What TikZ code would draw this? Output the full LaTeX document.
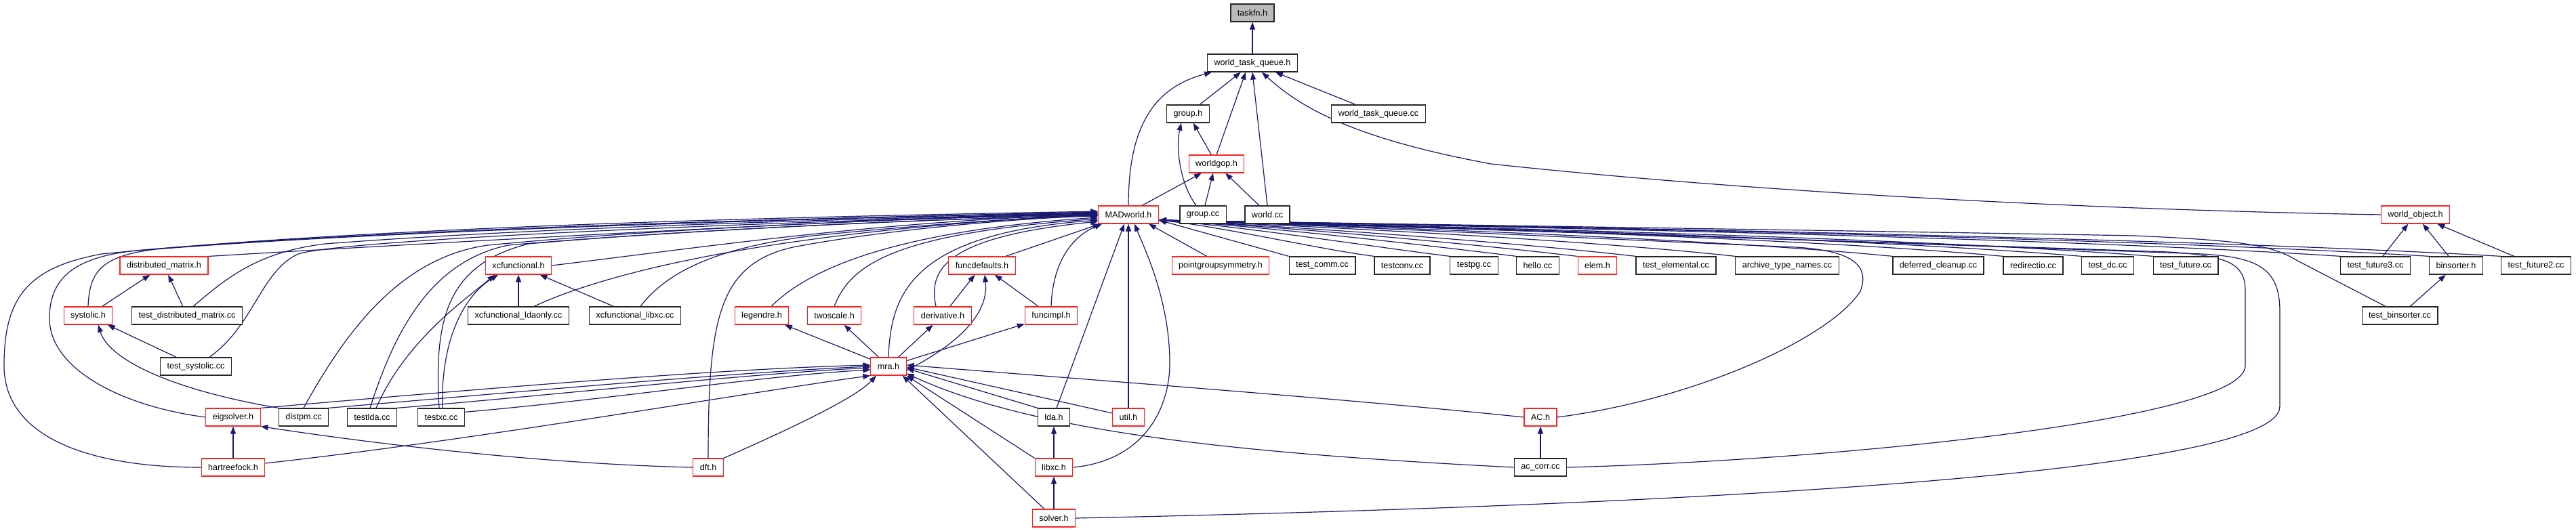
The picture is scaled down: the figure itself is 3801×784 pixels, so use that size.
\documentclass[tikz,border=0pt]{standalone}
\usepackage{fontspec}
\setmainfont{Liberation Sans}
\usetikzlibrary{arrows.meta}
\definecolor{edgeblue}{HTML}{191970}
\definecolor{boxred}{HTML}{FF2020}
\pgfdeclarelayer{back}
\pgfdeclarelayer{bg}
\pgfsetlayers{back,bg,main}
\begin{document}
\begin{tikzpicture}[x=1pt,y=-1pt,
  box/.style={draw=black!85,line width=1.3pt,fill=white,minimum height=26pt,inner xsep=10pt,inner ysep=0pt,font=\fontsize{12.6}{14}\selectfont,text=black},
  rbox/.style={box,draw=boxred,line width=1.1pt},
  gbox/.style={box,fill=black!27},
  edge/.style={draw=edgeblue,line width=1.2pt,-{Triangle[length=11pt,width=8pt]}}]
\begin{pgfonlayer}{back}
\fill[white] (0,0) rectangle (3801,784);
\end{pgfonlayer}
\useasboundingbox (0,0) rectangle (3801,784);
% row 0-3
\node[gbox] (taskfn) at (1848,19) {taskfn.h};
\node[box] (wtqh) at (1848,93) {world\_task\_queue.h};
\node[box] (grouph) at (1753,168) {group.h};
\node[box] (wtqcc) at (2034,168) {world\_task\_queue.cc};
\node[rbox] (worldgop) at (1795,242) {worldgop.h};
% row 4
\node[rbox] (mad) at (1665,317) {MADworld.h};
\node[box] (groupcc) at (1775,317) {group.cc};
\node[box] (worldcc) at (1870,317) {world.cc};
\node[rbox] (wobj) at (3564,317) {world\_object.h};
% row 5
\node[rbox] (dmh) at (242,392) {distributed\_matrix.h};
\node[rbox] (xfh) at (765,392) {xcfunctional.h};
\node[rbox] (funcdef) at (1449,392) {funcdefaults.h};
\node[rbox] (pgs) at (1801,392) {pointgroupsymmetry.h};
\node[box] (tcomm) at (1951,392) {test\_comm.cc};
\node[box] (tconv) at (2069,392) {testconv.cc};
\node[box] (tpg) at (2175,392) {testpg.cc};
\node[box] (hello) at (2269,392) {hello.cc};
\node[rbox] (elem) at (2357,392) {elem.h};
\node[box] (telem) at (2473,392) {test\_elemental.cc};
\node[box] (atn) at (2637,392) {archive\_type\_names.cc};
\node[box] (dcl) at (2860,392) {deferred\_cleanup.cc};
\node[box] (redir) at (3000,392) {redirectio.cc};
\node[box] (tdc) at (3110,392) {test\_dc.cc};
\node[box] (tfut) at (3225,392) {test\_future.cc};
\node[box] (tfut3) at (3505,392) {test\_future3.cc};
\node[box] (binh) at (3624,392) {binsorter.h};
\node[box] (tfut2) at (3742,392) {test\_future2.cc};
% row 6
\node[rbox] (systolic) at (130,466) {systolic.h};
\node[box] (tdm) at (276,466) {test\_distributed\_matrix.cc};
\node[box] (xflda) at (765,466) {xcfunctional\_ldaonly.cc};
\node[box] (xflibxc) at (937,466) {xcfunctional\_libxc.cc};
\node[rbox] (legendre) at (1124,466) {legendre.h};
\node[rbox] (twoscale) at (1231,466) {twoscale.h};
\node[rbox] (deriv) at (1391,466) {derivative.h};
\node[rbox] (funcimpl) at (1551,466) {funcimpl.h};
\node[box] (tbins) at (3541,466) {test\_binsorter.cc};
% row 7
\node[box] (tsys) at (289,541) {test\_systolic.cc};
\node[rbox] (mra) at (1311,541) {mra.h};
% row 8
\node[rbox] (eig) at (344,616) {eigsolver.h};
\node[box] (distpm) at (448,616) {distpm.cc};
\node[box] (testlda) at (549,616) {testlda.cc};
\node[box] (testxc) at (651,616) {testxc.cc};
\node[box] (lda) at (1555,616) {lda.h};
\node[rbox] (util) at (1665,616) {util.h};
\node[rbox] (ach) at (2273,616) {AC.h};
% row 9
\node[rbox] (hf) at (344,690) {hartreefock.h};
\node[rbox] (dft) at (1045,690) {dft.h};
\node[rbox] (libxc) at (1555,690) {libxc.h};
\node[box] (accorr) at (2273,690) {ac\_corr.cc};
% row 10
\node[rbox] (solver) at (1555,765) {solver.h};

\begin{pgfonlayer}{bg}
% top part
\draw[edge] (wtqh) -- (taskfn);
\draw[edge] (grouph) -- (wtqh);
\draw[edge] (wtqcc) -- (wtqh);
\draw[edge] (worldgop.north) -- ([xshift=-10pt]wtqh.south);
\draw[edge] (worldcc.north) -- (wtqh.south);
\draw[edge] (mad.north) .. controls (1665,190) and (1700,130) .. ([xshift=-60pt]wtqh.south);
\draw[edge] (wobj.west) .. controls (3100,310) and (2600,285) .. (2200,242) .. controls (2000,205) and (1920,160) .. ([xshift=14pt]wtqh.south);
\draw[edge] (worldgop) -- (grouph);
\draw[edge] ([xshift=-10pt]groupcc.north) .. controls (1740,270) and (1735,215) .. ([xshift=-10pt]grouph.south);
\draw[edge] ([xshift=20pt]mad.north) -- ([xshift=-22pt]worldgop.south);
\draw[edge] ([xshift=3pt]groupcc.north) -- ([xshift=-5pt]worldgop.south);
\draw[edge] ([xshift=-12pt]worldcc.north) -- ([xshift=13pt]worldgop.south);
% world_object
\draw[edge] (tfut3) -- (wobj);
\draw[edge] (binh) -- (wobj);
\draw[edge] (tfut2) -- (wobj);
\draw[edge] (tbins) -- (binh);
% left cluster
\draw[edge] (systolic) -- (dmh);
\draw[edge] (tdm) -- (dmh);
\draw[edge] (tsys) -- (systolic);
\draw[edge] (distpm.north west) .. controls (250,575) and (160,530) .. ([xshift=15pt]systolic.south);
\draw[edge] (hf) -- (eig);
\draw[edge] (dft.west) .. controls (800,685) and (550,655) .. (eig.south east);
% xcfunctional
\draw[edge] (xflda) -- (xfh);
\draw[edge] (xflibxc) -- (xfh);
\draw[edge] ([xshift=6pt]testlda.north) .. controls (600,500) and (690,440) .. ([xshift=-35pt]xfh.south);
\draw[edge] ([xshift=2pt]testxc.north) .. controls (650,510) and (680,440) .. ([xshift=-30pt]xfh.south);
% mra cluster
\draw[edge] (mra) -- (legendre);
\draw[edge] (mra) -- (twoscale);
\draw[edge] (mra) -- (deriv);
\draw[edge] (mra) -- (funcimpl);
\draw[edge] ([yshift=-6pt]mra.east) .. controls (1400,515) and (1460,470) .. ([xshift=4pt]funcdef.south);
\draw[edge] (deriv) -- (funcdef);
\draw[edge] (funcimpl) -- (funcdef);
\draw[edge] (eig.north east) .. controls (700,575) and (1050,545) .. ([yshift=2pt]mra.west);
\draw[edge] (distpm.north east) .. controls (750,580) and (1080,550) .. (mra.west);
\draw[edge] (testlda.north east) .. controls (800,585) and (1100,552) .. ([yshift=-2pt]mra.west);
\draw[edge] ([yshift=-6pt]testxc.north east) .. controls (900,590) and (1120,555) .. ([yshift=-5pt]mra.west);
\draw[edge] ([yshift=6pt]hf.east) .. controls (700,650) and (1100,580) .. (mra.south west);
\draw[edge] (dft.north east) .. controls (1150,640) and (1260,590) .. ([xshift=-18pt]mra.south);
\draw[edge] (lda.north west) -- ([yshift=-3pt]mra.east);
\draw[edge] ([yshift=6pt]util.west) -- ([yshift=-1pt]mra.east);
\draw[edge] (libxc.north west) -- (mra.south east);
\draw[edge] ([xshift=-14pt]solver.north) -- ([xshift=-6pt]mra.south east);
\draw[edge] (ach.west) .. controls (2000,590) and (1600,560) .. ([yshift=2pt]mra.east);
\draw[edge] (accorr.west) .. controls (1800,668) and (1520,635) .. ([yshift=3pt]mra.south east);
\draw[edge] (libxc) -- (lda);
\draw[edge] (solver) -- (libxc);
\draw[edge] (accorr) -- (ach);
% into MADworld from below
\draw[edge] ([xshift=4pt]lda.north) -- ([xshift=-6pt]mad.south);
\draw[edge] (util) -- (mad);
\draw[edge] (libxc.east) .. controls (1690,680) and (1728,600) .. (1726,530) .. controls (1724,440) and (1690,370) .. ([xshift=9pt]mad.south);
\draw[edge] ([xshift=-20pt]pgs.north) -- ([xshift=-15pt]mad.south east);
\draw[edge] ([xshift=-15pt]funcdef.north east) -- ([xshift=3pt]mad.south west);
\draw[edge] (funcimpl.north) .. controls (1553,390) and (1580,350) .. ([xshift=6pt]mad.south west);
\draw[edge] ([xshift=-10pt]deriv.north) .. controls (1370,400) and (1390,350) .. ([yshift=-10pt]mad.west);
\draw[edge] (mra.north) .. controls (1314,430) and (1350,345) .. ([yshift=-8pt]mad.west);
\draw[edge] (twoscale.north) .. controls (1255,390) and (1320,345) .. ([yshift=-6pt]mad.west);
\draw[edge] ([xshift=14pt]legendre.north) .. controls (1200,390) and (1340,340) .. ([yshift=-4pt]mad.west);
\draw[edge] (dft.north) .. controls (1045,470) and (1060,390) .. (1170,365) .. controls (1300,340) and (1500,322) .. ([yshift=-2pt]mad.west);
\draw[edge] ([xshift=8pt]xflibxc.north) .. controls (985,400) and (1060,365) .. (1200,348) .. controls (1400,328) and (1550,320) .. (mad.west);
\draw[edge] ([xshift=23pt]xflda.north) .. controls (900,400) and (1150,340) .. (mad.west);
\draw[edge] (xfh.east) .. controls (1000,370) and (1300,325) .. (mad.west);
% far left into MADworld
\draw[edge] (dmh.north east) .. controls (700,355) and (1300,322) .. ([yshift=3pt]mad.west);
\draw[edge] ([xshift=9pt]tdm.north) .. controls (335,410) and (380,372) .. (480,360) .. controls (800,335) and (1300,322) .. ([yshift=2pt]mad.west);
\draw[edge] ([xshift=20pt]tsys.north) .. controls (375,480) and (385,400) .. (440,375) .. controls (520,350) and (1300,322) .. ([yshift=1pt]mad.west);
\draw[edge] (systolic.north) .. controls (132,400) and (150,378) .. (230,368) .. controls (600,338) and (1300,320) .. ([yshift=3pt]mad.west);
\draw[edge] (eig.west) .. controls (180,600) and (73,545) .. (73,470) .. controls (73,410) and (110,380) .. (200,370) .. controls (600,335) and (1300,320) .. ([yshift=4pt]mad.west);
\draw[edge] (hf.west) .. controls (120,690) and (6,640) .. (6,540) .. controls (6,440) and (40,395) .. (150,375) .. controls (600,330) and (1300,318) .. ([yshift=5pt]mad.west);
\draw[edge] (distpm.north) .. controls (510,490) and (590,380) .. (720,362) .. controls (1000,335) and (1400,320) .. (mad.west);
\draw[edge] ([xshift=-3pt]testlda.north) .. controls (585,480) and (640,385) .. (750,362) .. controls (1000,340) and (1400,322) .. ([yshift=-1pt]mad.west);
\draw[edge] ([xshift=-3pt]testxc.north) .. controls (640,470) and (660,390) .. (780,360) .. controls (1000,340) and (1400,322) .. ([yshift=-1pt]mad.west);
% right row into MADworld
\draw[edge] (tcomm.north west) -- ([yshift=-8pt]mad.east);
\draw[edge] (tconv.north west) .. controls (1946,368) and (1805,335) .. ([yshift=-8pt]mad.east);
\draw[edge] (tpg.north west) .. controls (2030,365) and (1839,335) .. ([yshift=-8pt]mad.east);
\draw[edge] (hello.north west) .. controls (2105,362) and (1870,335) .. ([yshift=-8pt]mad.east);
\draw[edge] (elem.north west) .. controls (2173,360) and (1896,335) .. ([yshift=-8pt]mad.east);
\draw[edge] (telem.north west) .. controls (2237,358) and (1921,335) .. ([yshift=-8pt]mad.east);
\draw[edge] (atn.north west) .. controls (2347,355) and (1965,335) .. ([yshift=-8pt]mad.east);
\draw[edge] (dcl.north west) .. controls (2521,352) and (2035,335) .. ([yshift=-8pt]mad.east);
\draw[edge] (redir.north west) .. controls (2643,350) and (2084,335) .. ([yshift=-8pt]mad.east);
\draw[edge] (tdc.north west) .. controls (2730,350) and (2119,335) .. ([yshift=-8pt]mad.east);
\draw[edge] (tfut.north west) .. controls (2809,350) and (2150,335) .. ([yshift=-8pt]mad.east);
\draw[edge] (tfut3.north west) .. controls (3017,350) and (2233,335) .. ([yshift=-8pt]mad.east);
\draw[edge] (binh.north west) .. controls (3115,350) and (2273,335) .. ([yshift=-8pt]mad.east);
\draw[edge] (tfut2.north west) .. controls (3195,350) and (2304,335) .. ([yshift=-8pt]mad.east);
\draw[edge] ([xshift=-21pt]tbins.north) -- (3390,385) .. controls (3350,360) and (3300,355) .. (3150,348) .. controls (2700,340) and (2000,330) .. ([yshift=-8pt]mad.east);
% loops on the right
\draw[edge] (ach.east) .. controls (2500,590) and (2700,500) .. (2745,430) .. controls (2760,390) and (2730,370) .. (2650,365) .. controls (2300,350) and (1900,330) .. ([yshift=-8pt]mad.east);
\draw[edge] (accorr.east) .. controls (2700,680) and (3313,620) .. (3313,540) -- (3313,430) .. controls (3313,390) and (3290,378) .. (3200,372) .. controls (2700,355) and (2000,332) .. ([yshift=-8pt]mad.east);
\draw[edge] (solver.east) .. controls (2300,750) and (3364,710) .. (3364,600) -- (3364,460) .. controls (3364,395) and (3330,380) .. (3250,375) .. controls (2700,355) and (2000,332) .. ([yshift=-8pt]mad.east);
\end{pgfonlayer}
\end{tikzpicture}
\end{document}
